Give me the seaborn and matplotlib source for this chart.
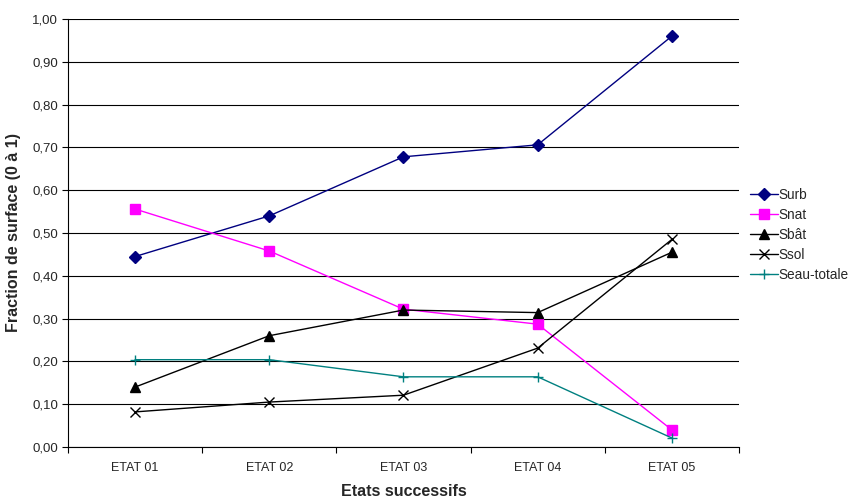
import numpy as np
import pandas as pd
import seaborn as sns
import matplotlib.pyplot as plt
from matplotlib.ticker import FuncFormatter, MultipleLocator, FixedLocator

# values
etats = ['ETAT 01', 'ETAT 02', 'ETAT 03', 'ETAT 04', 'ETAT 05']
surb = [0.445, 0.540, 0.678, 0.706, 0.960]
snat = [0.556, 0.458, 0.322, 0.287, 0.040]
sbat = [0.140, 0.260, 0.320, 0.314, 0.455]
ssol = [0.082, 0.105, 0.121, 0.231, 0.485]
seau = [0.204, 0.204, 0.164, 0.164, 0.021]

series = [
    ('Surb', surb, '#000080', 'D', 6, 1.0),
    ('Snat', snat, '#FF00FF', 's', 7, 1.0),
    ('Sbât', sbat, '#000000', '^', 7, 1.0),
    ('Ssol', ssol, '#000000', 'x', 7, 1.0),
    ('Seau-totale', seau, '#008080', '+', 7, 1.0),
]

sns.set_style('white')
plt.rcParams['font.family'] = ['Liberation Sans', 'DejaVu Sans']

fig = plt.figure(figsize=(8.54, 5.0), dpi=100)
ax = fig.add_axes([0.0796, 0.106, 0.7857, 0.856])

for name, vals, col, mk, ms, lw in series:
    sns.lineplot(x=etats, y=vals, ax=ax, color=col, marker=mk, markersize=ms,
                 markeredgecolor=col, markerfacecolor=col, markeredgewidth=1.0,
                 linewidth=lw, label=name, sort=False)

ax.set_xlim(-0.5, 4.5)
ax.set_ylim(0, 1.0)
ax.yaxis.set_major_locator(MultipleLocator(0.1))
ax.yaxis.set_major_formatter(FuncFormatter(lambda v, p: f'{v:.2f}'.replace('.', ',')))
ax.grid(axis='y', color='black', linewidth=0.8)
ax.set_axisbelow(True)

# Excel-style ticks between categories
ax.xaxis.set_minor_locator(FixedLocator(np.arange(-0.5, 5.0, 1.0)))
ax.tick_params(axis='x', which='major', length=0, labelsize=9, pad=11)
ax.tick_params(axis='x', which='minor', length=4, width=0.8, color='black', direction='out',
               bottom=True)
ax.tick_params(axis='y', which='major', length=4, width=0.8, color='black', direction='out',
               labelsize=9.5, left=True, pad=3)

for s in ['top', 'right']:
    ax.spines[s].set_visible(False)
for s in ['left', 'bottom']:
    ax.spines[s].set_color('black')
    ax.spines[s].set_linewidth(0.8)

ax.set_xlabel('Etats successifs', fontsize=11.5, fontweight='bold', labelpad=7)
ax.set_ylabel('Fraction de surface (0 à 1)', fontsize=11.5, fontweight='bold', labelpad=8)

ax.legend(loc='upper left', bbox_to_anchor=(1.009, 0.619), frameon=False, fontsize=9.8,
          handlelength=2.0, labelspacing=0.45, handletextpad=0.05, borderaxespad=0.0)

fig.savefig('out.png', dpi=100)
